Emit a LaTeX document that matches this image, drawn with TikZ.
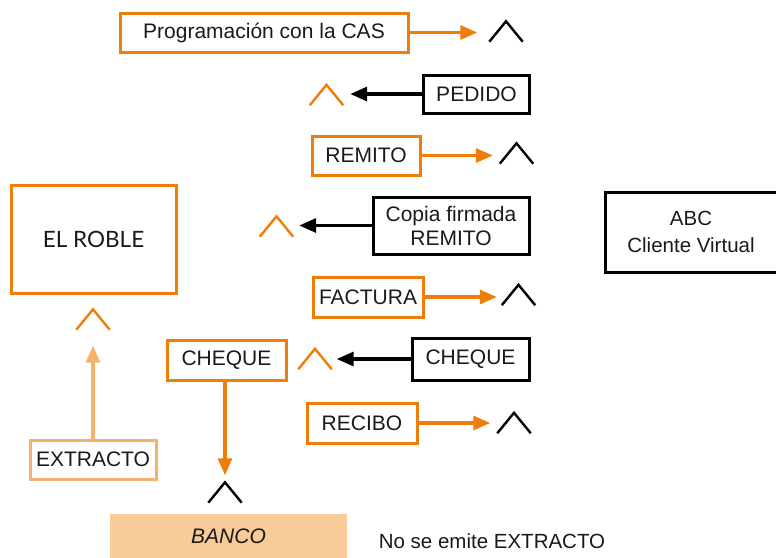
\documentclass[tikz,border=0pt]{standalone}
\usepackage{fontspec}
\setmainfont{Liberation Sans}
\newfontfamily\latofont{Lato}
\usetikzlibrary{arrows.meta}
\definecolor{orng}{HTML}{EE7D0A}
\definecolor{lorng}{HTML}{F4B26A}
\definecolor{bancofill}{HTML}{F8CB98}
\definecolor{txt}{HTML}{1A1A1A}
\begin{document}
\begin{tikzpicture}[x=1pt,y=-1pt,
 box/.style={draw, line width=3pt, inner sep=0pt, align=center, text=txt, font=\fontsize{21}{24}\selectfont},
 obox/.style={box, draw=orng},
 kbox/.style={box, draw=black},
 caret/.style={inner sep=0pt, minimum width=33pt, minimum height=20pt},
 cline/.style={line width=2.4pt, line cap=butt},
 ocline/.style={cline, draw=orng},
 kcline/.style={cline, draw=black},
 oarr/.style={draw=orng, line width=3.2pt, -{Triangle[length=17pt,width=14pt]}},
 larr/.style={draw=lorng, line width=3.2pt, -{Triangle[length=17pt,width=14pt]}},
 karr/.style={draw=black, line width=3.2pt, -{Triangle[length=17pt,width=14pt]}},
]
\useasboundingbox (0,0) rectangle (776,557);

% top row
\node[obox, minimum width=288pt, minimum height=39pt] (prog) at (264,32.5) {Programación con la CAS};
\node[caret] (c1) at (506,31.5) {};
\draw[kcline] (c1.south west) -- (c1.north) -- (c1.south east);
\draw[oarr, shorten >=12pt] (prog.east) -- (prog.east -| c1.west);

% PEDIDO
\node[kbox, minimum width=106pt, minimum height=38pt] (pedido) at (476.5,94) {PEDIDO};
\node[caret] (c2) at (326.5,95) {};
\draw[ocline] (c2.south west) -- (c2.north) -- (c2.south east);
\draw[karr, shorten >=7pt] (pedido.west) -- (pedido.west -| c2.east);

% REMITO
\node[obox, minimum width=108pt, minimum height=39pt] (remito) at (366,155.5) {REMITO};
\node[caret] (c3) at (516.5,153.5) {};
\draw[kcline] (c3.south west) -- (c3.north) -- (c3.south east);
\draw[oarr, shorten >=7pt] (remito.east) -- (remito.east -| c3.west);

% Copia firmada REMITO
\node[kbox, minimum width=156pt, minimum height=57pt] (copia) at (451,225.5) {Copia firmada\\REMITO};
\node[caret] (c4) at (276.5,226.5) {};
\draw[ocline] (c4.south west) -- (c4.north) -- (c4.south east);
\draw[karr, shorten >=6pt] (copia.west) -- (copia.west -| c4.east);

% ABC
\node[kbox, minimum width=172pt, minimum height=80pt, font=\fontsize{20.5}{27}\selectfont] (abc) at (691,232) {ABC\\Cliente Virtual};

% EL ROBLE
\node[obox, minimum width=165pt, minimum height=108pt, font=\latofont\fontsize{22.5}{26}\selectfont] (roble) at (93.5,239) {EL ROBLE};
\node[caret] (c5) at (93,319.5) {};
\draw[ocline] (c5.south west) -- (c5.north) -- (c5.south east);

% FACTURA
\node[obox, minimum width=110pt, minimum height=40pt] (factura) at (368,297) {FACTURA};
\node[caret] (c6) at (518.5,295) {};
\draw[kcline] (c6.south west) -- (c6.north) -- (c6.south east);
\draw[oarr, shorten >=5pt] (factura.east) -- (factura.east -| c6.west);

% CHEQUE
\node[obox, minimum width=119pt, minimum height=40pt] (chq1) at (226.5,360.5) {CHEQUE};
\node[kbox, minimum width=117pt, minimum height=42pt] (chq2) at (470.5,359) {CHEQUE};
\node[caret] (c7) at (315,359) {};
\draw[ocline] (c7.south west) -- (c7.north) -- (c7.south east);
\draw[karr, shorten >=5pt] (chq2.west) -- (chq2.west -| c7.east);

% RECIBO
\node[obox, minimum width=110pt, minimum height=40pt] (recibo) at (362,423) {RECIBO};
\node[caret] (c8) at (514,423) {};
\draw[kcline] (c8.south west) -- (c8.north) -- (c8.south east);
\draw[oarr, shorten >=7pt] (recibo.east) -- (recibo.east -| c8.west);

% EXTRACTO
\node[box, draw=lorng, minimum width=126pt, minimum height=39pt] (extracto) at (93,459.5) {EXTRACTO};
\draw[larr, shorten >=16pt] (extracto.north) -- (c5.south);

% BANCO
\node[caret] (c9) at (225,492.5) {};
\draw[kcline] (c9.south west) -- (c9.north) -- (c9.south east);
\draw[oarr, shorten >=7pt] (chq1.south -| c9) -- (c9.north);
\node[fill=bancofill, inner sep=0pt, minimum width=237pt, minimum height=45pt, text=txt, font=\fontsize{21}{24}\selectfont\itshape] (banco) at (228.5,536.5) {BANCO};
\node[inner sep=0pt, text=txt, font=\fontsize{20.5}{24}\selectfont] (nota) at (492,541) {No se emite EXTRACTO};
\end{tikzpicture}
\end{document}
